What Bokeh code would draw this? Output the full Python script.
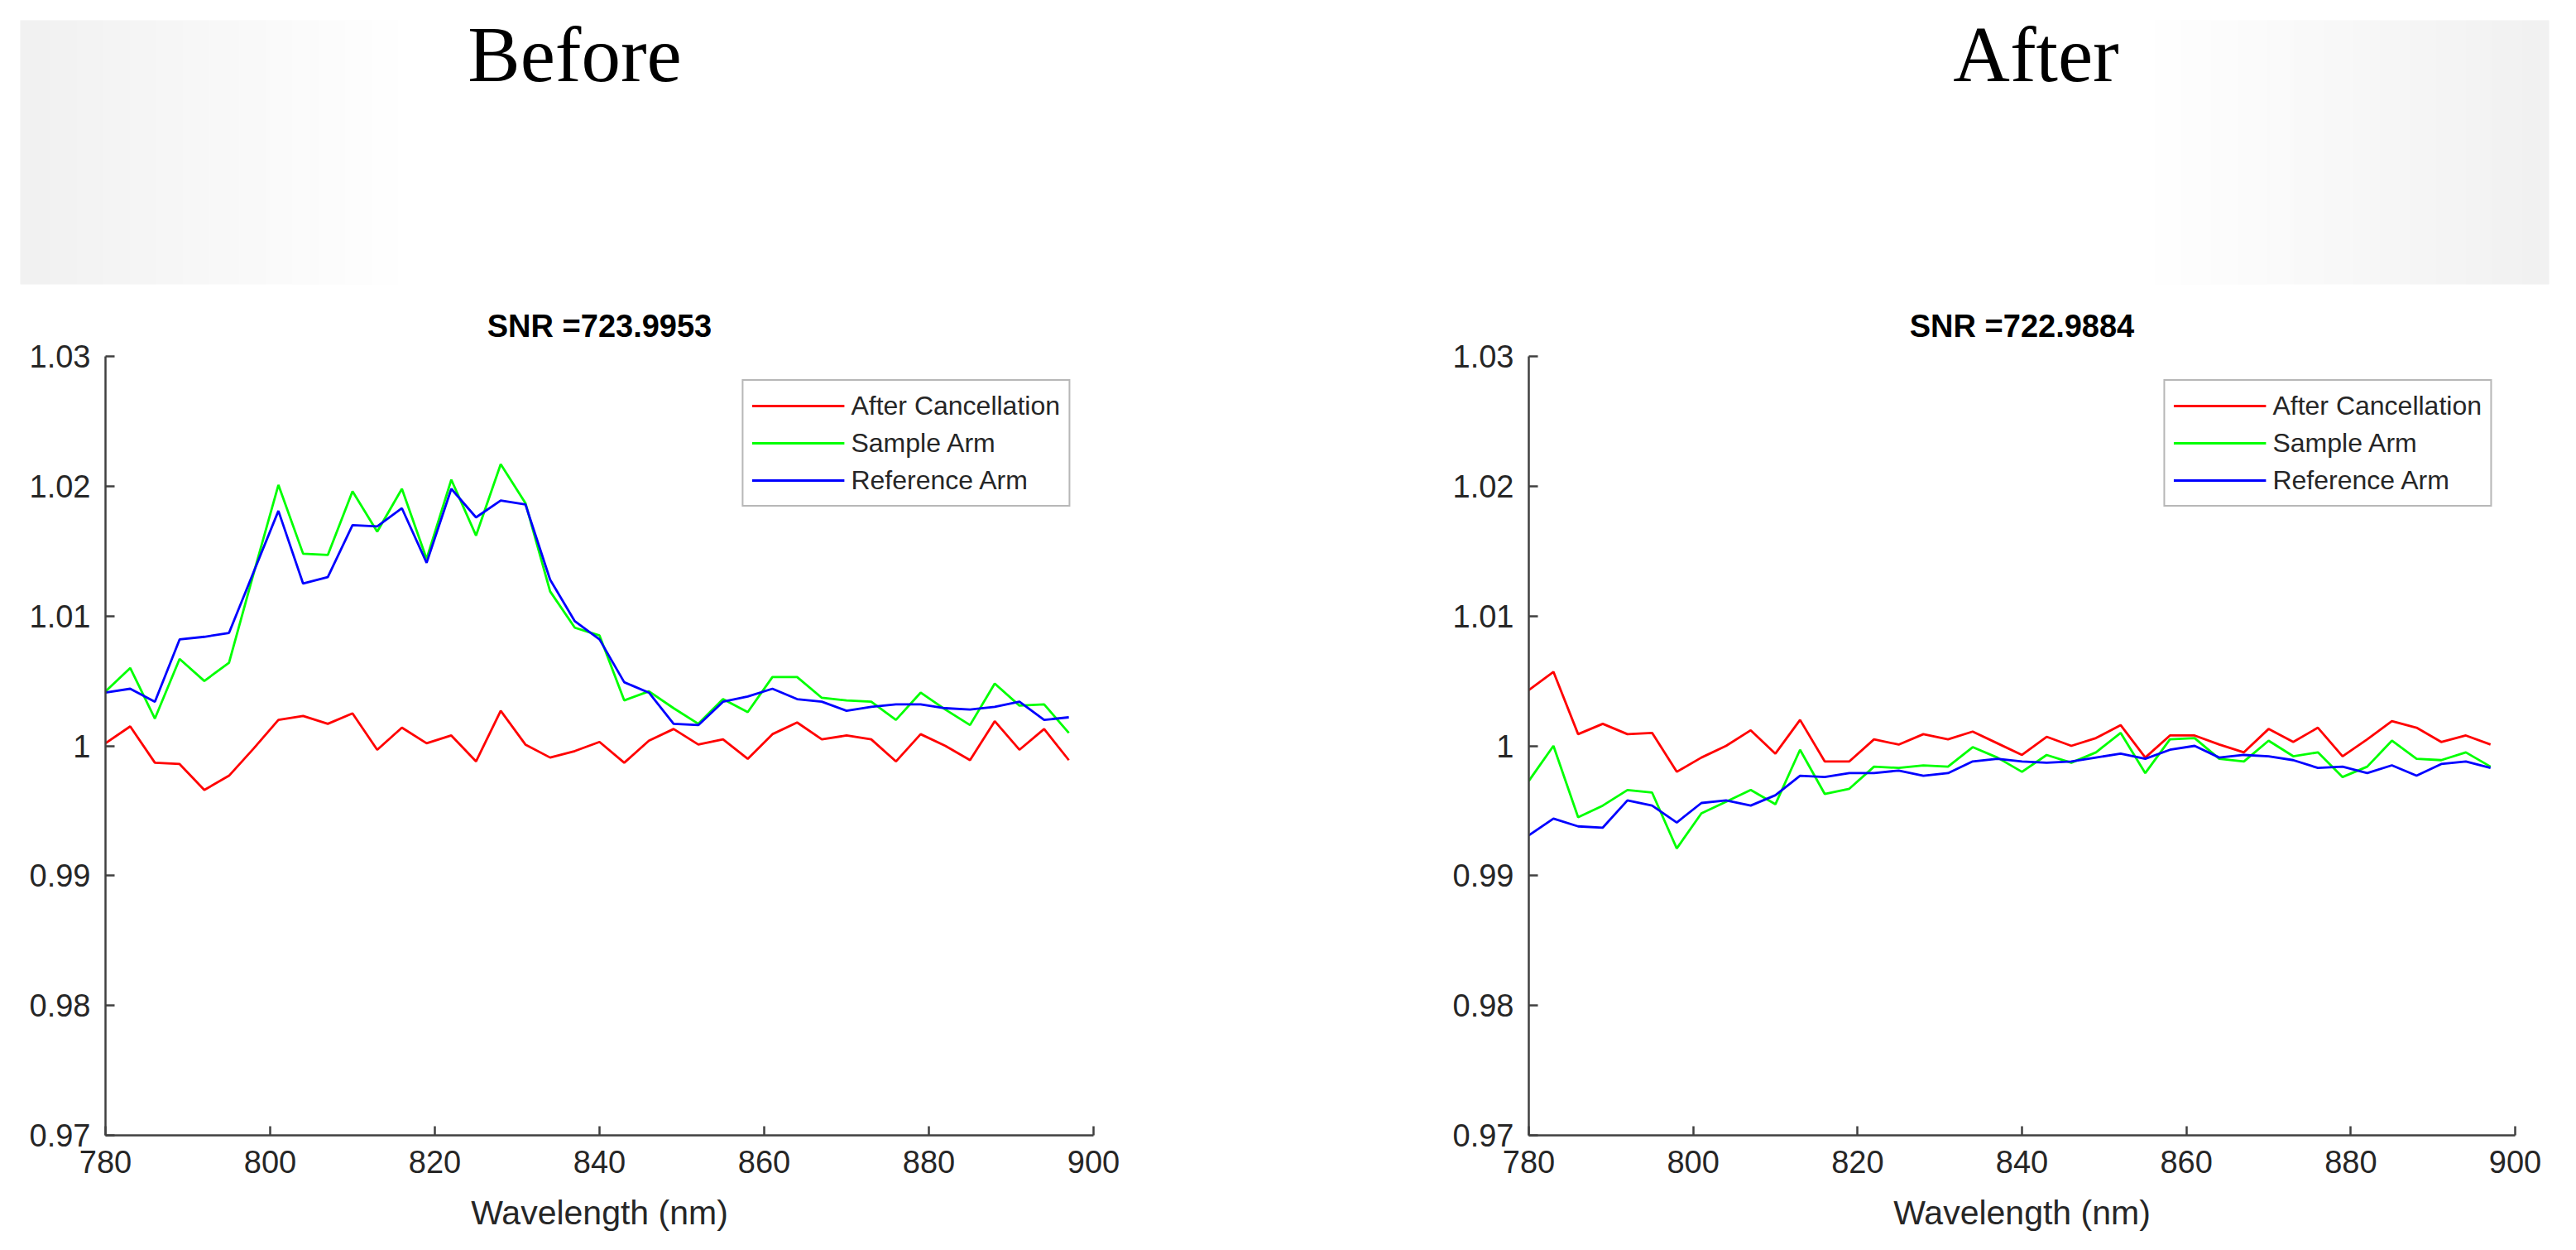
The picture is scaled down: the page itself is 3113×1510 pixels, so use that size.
import numpy as np
from bokeh.plotting import figure
from bokeh.models import Range1d, FixedTicker
from bokeh.layouts import column, row
from bokeh.embed import file_html
from bokeh.resources import INLINE
from bokeh.core.properties import value

# ---------------- data ----------------
wavelength = [780, 783, 786, 789, 792, 795, 798, 801, 804, 807,
              810, 813, 816, 819, 822, 825, 828, 831, 834, 837,
              840, 843, 846, 849, 852, 855, 858, 861, 864, 867,
              870, 873, 876, 879, 882, 885, 888, 891, 894, 897]

before_cancel = [1.0002, 1.0015, 0.9987, 0.9986, 0.9966, 0.9977, 0.9998, 1.0020, 1.0023, 1.0017,
                 1.0025, 0.9997, 1.0014, 1.0002, 1.0008, 0.9988, 1.0027, 1.0001, 0.9991, 0.9996,
                 1.0003, 0.9987, 1.0004, 1.0013, 1.0001, 1.0005, 0.9990, 1.0009, 1.0018, 1.0005,
                 1.0008, 1.0005, 0.9988, 1.0009, 1.0000, 0.9989, 1.0019, 0.9997, 1.0013, 0.9989]
before_sample = [1.0042, 1.0060, 1.0021, 1.0067, 1.0050, 1.0064, 1.0133, 1.0201, 1.0148, 1.0147,
                 1.0196, 1.0165, 1.0198, 1.0144, 1.0205, 1.0162, 1.0217, 1.0187, 1.0119, 1.0091,
                 1.0085, 1.0035, 1.0042, 1.0029, 1.0017, 1.0036, 1.0026, 1.0053, 1.0053, 1.0037,
                 1.0035, 1.0034, 1.0020, 1.0041, 1.0028, 1.0016, 1.0048, 1.0031, 1.0032, 1.0010]
before_reference = [1.0041, 1.0044, 1.0034, 1.0082, 1.0084, 1.0087, 1.0134, 1.0181, 1.0125, 1.0130,
                    1.0170, 1.0169, 1.0183, 1.0141, 1.0198, 1.0176, 1.0189, 1.0186, 1.0128, 1.0096,
                    1.0082, 1.0049, 1.0041, 1.0017, 1.0016, 1.0034, 1.0038, 1.0044, 1.0036, 1.0034,
                    1.0027, 1.0030, 1.0032, 1.0032, 1.0029, 1.0028, 1.0030, 1.0034, 1.0020, 1.0022]

after_cancel = [1.0043, 1.0057, 1.0009, 1.0017, 1.0009, 1.0010, 0.9980, 0.9991, 1.0000, 1.0012,
                0.9994, 1.0020, 0.9988, 0.9988, 1.0005, 1.0001, 1.0009, 1.0005, 1.0011, 1.0002,
                0.9993, 1.0007, 1.0000, 1.0006, 1.0016, 0.9991, 1.0008, 1.0008, 1.0001, 0.9995,
                1.0013, 1.0003, 1.0014, 0.9992, 1.0005, 1.0019, 1.0014, 1.0003, 1.0008, 1.0001]
after_sample = [0.9973, 1.0000, 0.9945, 0.9954, 0.9966, 0.9964, 0.9921, 0.9948, 0.9957, 0.9966,
                0.9955, 0.9997, 0.9963, 0.9967, 0.9984, 0.9983, 0.9985, 0.9984, 0.9999, 0.9991,
                0.9980, 0.9993, 0.9987, 0.9995, 1.0010, 0.9979, 1.0005, 1.0006, 0.9990, 0.9988,
                1.0004, 0.9992, 0.9995, 0.9976, 0.9984, 1.0004, 0.9990, 0.9989, 0.9995, 0.9984]
after_reference = [0.9931, 0.9944, 0.9938, 0.9937, 0.9958, 0.9954, 0.9941, 0.9956, 0.9958, 0.9954,
                   0.9962, 0.9977, 0.9976, 0.9979, 0.9979, 0.9981, 0.9977, 0.9979, 0.9988, 0.9990,
                   0.9988, 0.9987, 0.9988, 0.9991, 0.9994, 0.9990, 0.9997, 1.0000, 0.9991, 0.9993,
                   0.9992, 0.9989, 0.9983, 0.9984, 0.9979, 0.9985, 0.9977, 0.9986, 0.9988, 0.9983]

series_names = ["After Cancellation", "Sample Arm", "Reference Arm"]
panel_titles = ["Before", "After"]
snr_titles = ["SNR =723.9953", "SNR =722.9884"]

x_ticks = [780, 800, 820, 840, 860, 880, 900]
x_tick_labels = ["780", "800", "820", "840", "860", "880", "900"]
y_ticks = [0.97, 0.98, 0.99, 1.0, 1.01, 1.02, 1.03]
y_tick_labels = ["0.97", "0.98", "0.99", "1", "1.01", "1.02", "1.03"]

# ---------------- styling ----------------
SANS = "Liberation Sans"
AXIS_COL = "#404040"
TEXT_COL = "#262626"
LINE_COLORS = ["#ff0000", "#00ff00", "#0000ff"]

PAGE_W = 3113
HDR_H = 353

# ---------------- header band ----------------
hdr = figure(width=PAGE_W, height=HDR_H, x_range=Range1d(0, PAGE_W), y_range=Range1d(0, HDR_H),
             output_backend="svg", toolbar_location=None, min_border=0,
             x_axis_location=None, y_axis_location=None)
hdr.grid.visible = False
hdr.outline_line_color = None
hdr.background_fill_color = "white"
hdr.border_fill_color = "white"

band_x0, band_w = 24, 3056
band_y0, band_h = HDR_H - 343, 319
ncol = band_w // 4
cols = np.arange(ncol) * 4 + band_x0
gray = np.full(ncol, 255.0)
left = cols < 480
gray[left] = 241 + 14 * (cols[left] - 24) / (480 - 24)
right = cols > 2600
gray[right] = 255 - 14 * (cols[right] - 2600) / (3080 - 2600)
gray = np.clip(gray, 0, 255).astype(np.uint8)
img = np.empty((1, ncol), dtype=np.uint32)
view = img.view(dtype=np.uint8).reshape((1, ncol, 4))
view[0, :, 0] = gray
view[0, :, 1] = gray
view[0, :, 2] = gray
view[0, :, 3] = 255
hdr.image_rgba(image=[img], x=band_x0, y=band_y0, dw=band_w, dh=band_h)
hdr.text(x=[694, 2460], y=[HDR_H - 65, HDR_H - 65], text=panel_titles,
         text_font=value("Liberation Serif"), text_font_size="95px",
         text_align="center", text_baseline="middle", text_color="black")


# ---------------- plots ----------------
def make_plot(title, ys, frame_w, border_l, border_r):
    p = figure(frame_width=frame_w, frame_height=941,
               x_range=Range1d(780, 900), y_range=Range1d(0.97, 1.03),
               output_backend="svg", toolbar_location=None,
               min_border_left=border_l, min_border_right=border_r,
               min_border_top=77, min_border_bottom=0)
    p.grid.visible = False
    p.outline_line_color = None
    p.background_fill_color = "white"
    p.border_fill_color = "white"

    for y, c, name in zip(ys, LINE_COLORS, series_names):
        p.line(wavelength, y, line_color=c, line_width=2.8, legend_label=name)

    p.title.text = title
    p.title.align = "center"
    p.title.text_font = SANS
    p.title.text_font_style = "bold"
    p.title.text_font_size = "38px"
    p.title.text_color = "black"
    p.title.standoff = 32

    for ax in (p.xaxis[0], p.yaxis[0]):
        ax.axis_line_color = AXIS_COL
        ax.axis_line_width = 2.5
        ax.major_tick_line_color = AXIS_COL
        ax.major_tick_line_width = 2.5
        ax.major_tick_in = 11
        ax.major_tick_out = 0
        ax.minor_tick_line_color = None
        ax.major_label_text_font = SANS
        ax.major_label_text_font_size = "38px"
        ax.major_label_text_color = TEXT_COL

    p.xaxis.ticker = FixedTicker(ticks=x_ticks)
    p.xaxis.major_label_overrides = dict(zip(x_ticks, x_tick_labels))
    p.yaxis.ticker = FixedTicker(ticks=y_ticks)
    p.yaxis.major_label_overrides = dict(zip(y_ticks, y_tick_labels))
    p.xaxis.major_label_standoff = 18
    p.yaxis.major_label_standoff = 18

    p.xaxis.axis_label = "Wavelength (nm)"
    p.xaxis.axis_label_text_font = SANS
    p.xaxis.axis_label_text_font_size = "41px"
    p.xaxis.axis_label_text_font_style = "normal"
    p.xaxis.axis_label_text_color = TEXT_COL
    p.xaxis.axis_label_standoff = 22

    lg = p.legend[0]
    lg.location = "top_right"
    lg.margin = 28
    lg.padding = 10
    lg.spacing = 5
    lg.label_height = 40
    lg.glyph_height = 40
    lg.glyph_width = 112
    lg.label_standoff = 8
    lg.label_text_font = SANS
    lg.label_text_font_size = "32px"
    lg.label_text_color = TEXT_COL
    lg.border_line_color = "#707070"
    lg.border_line_width = 2
    lg.background_fill_color = "white"
    lg.background_fill_alpha = 1.0
    return p


p1 = make_plot(snr_titles[0], [before_cancel, before_sample, before_reference], 1194, 127, 235)
p2 = make_plot(snr_titles[1], [after_cancel, after_sample, after_reference], 1192, 291, 60)

layout = column(hdr, row(p1, p2))

open("out.html", "w").write(file_html(layout, INLINE))
